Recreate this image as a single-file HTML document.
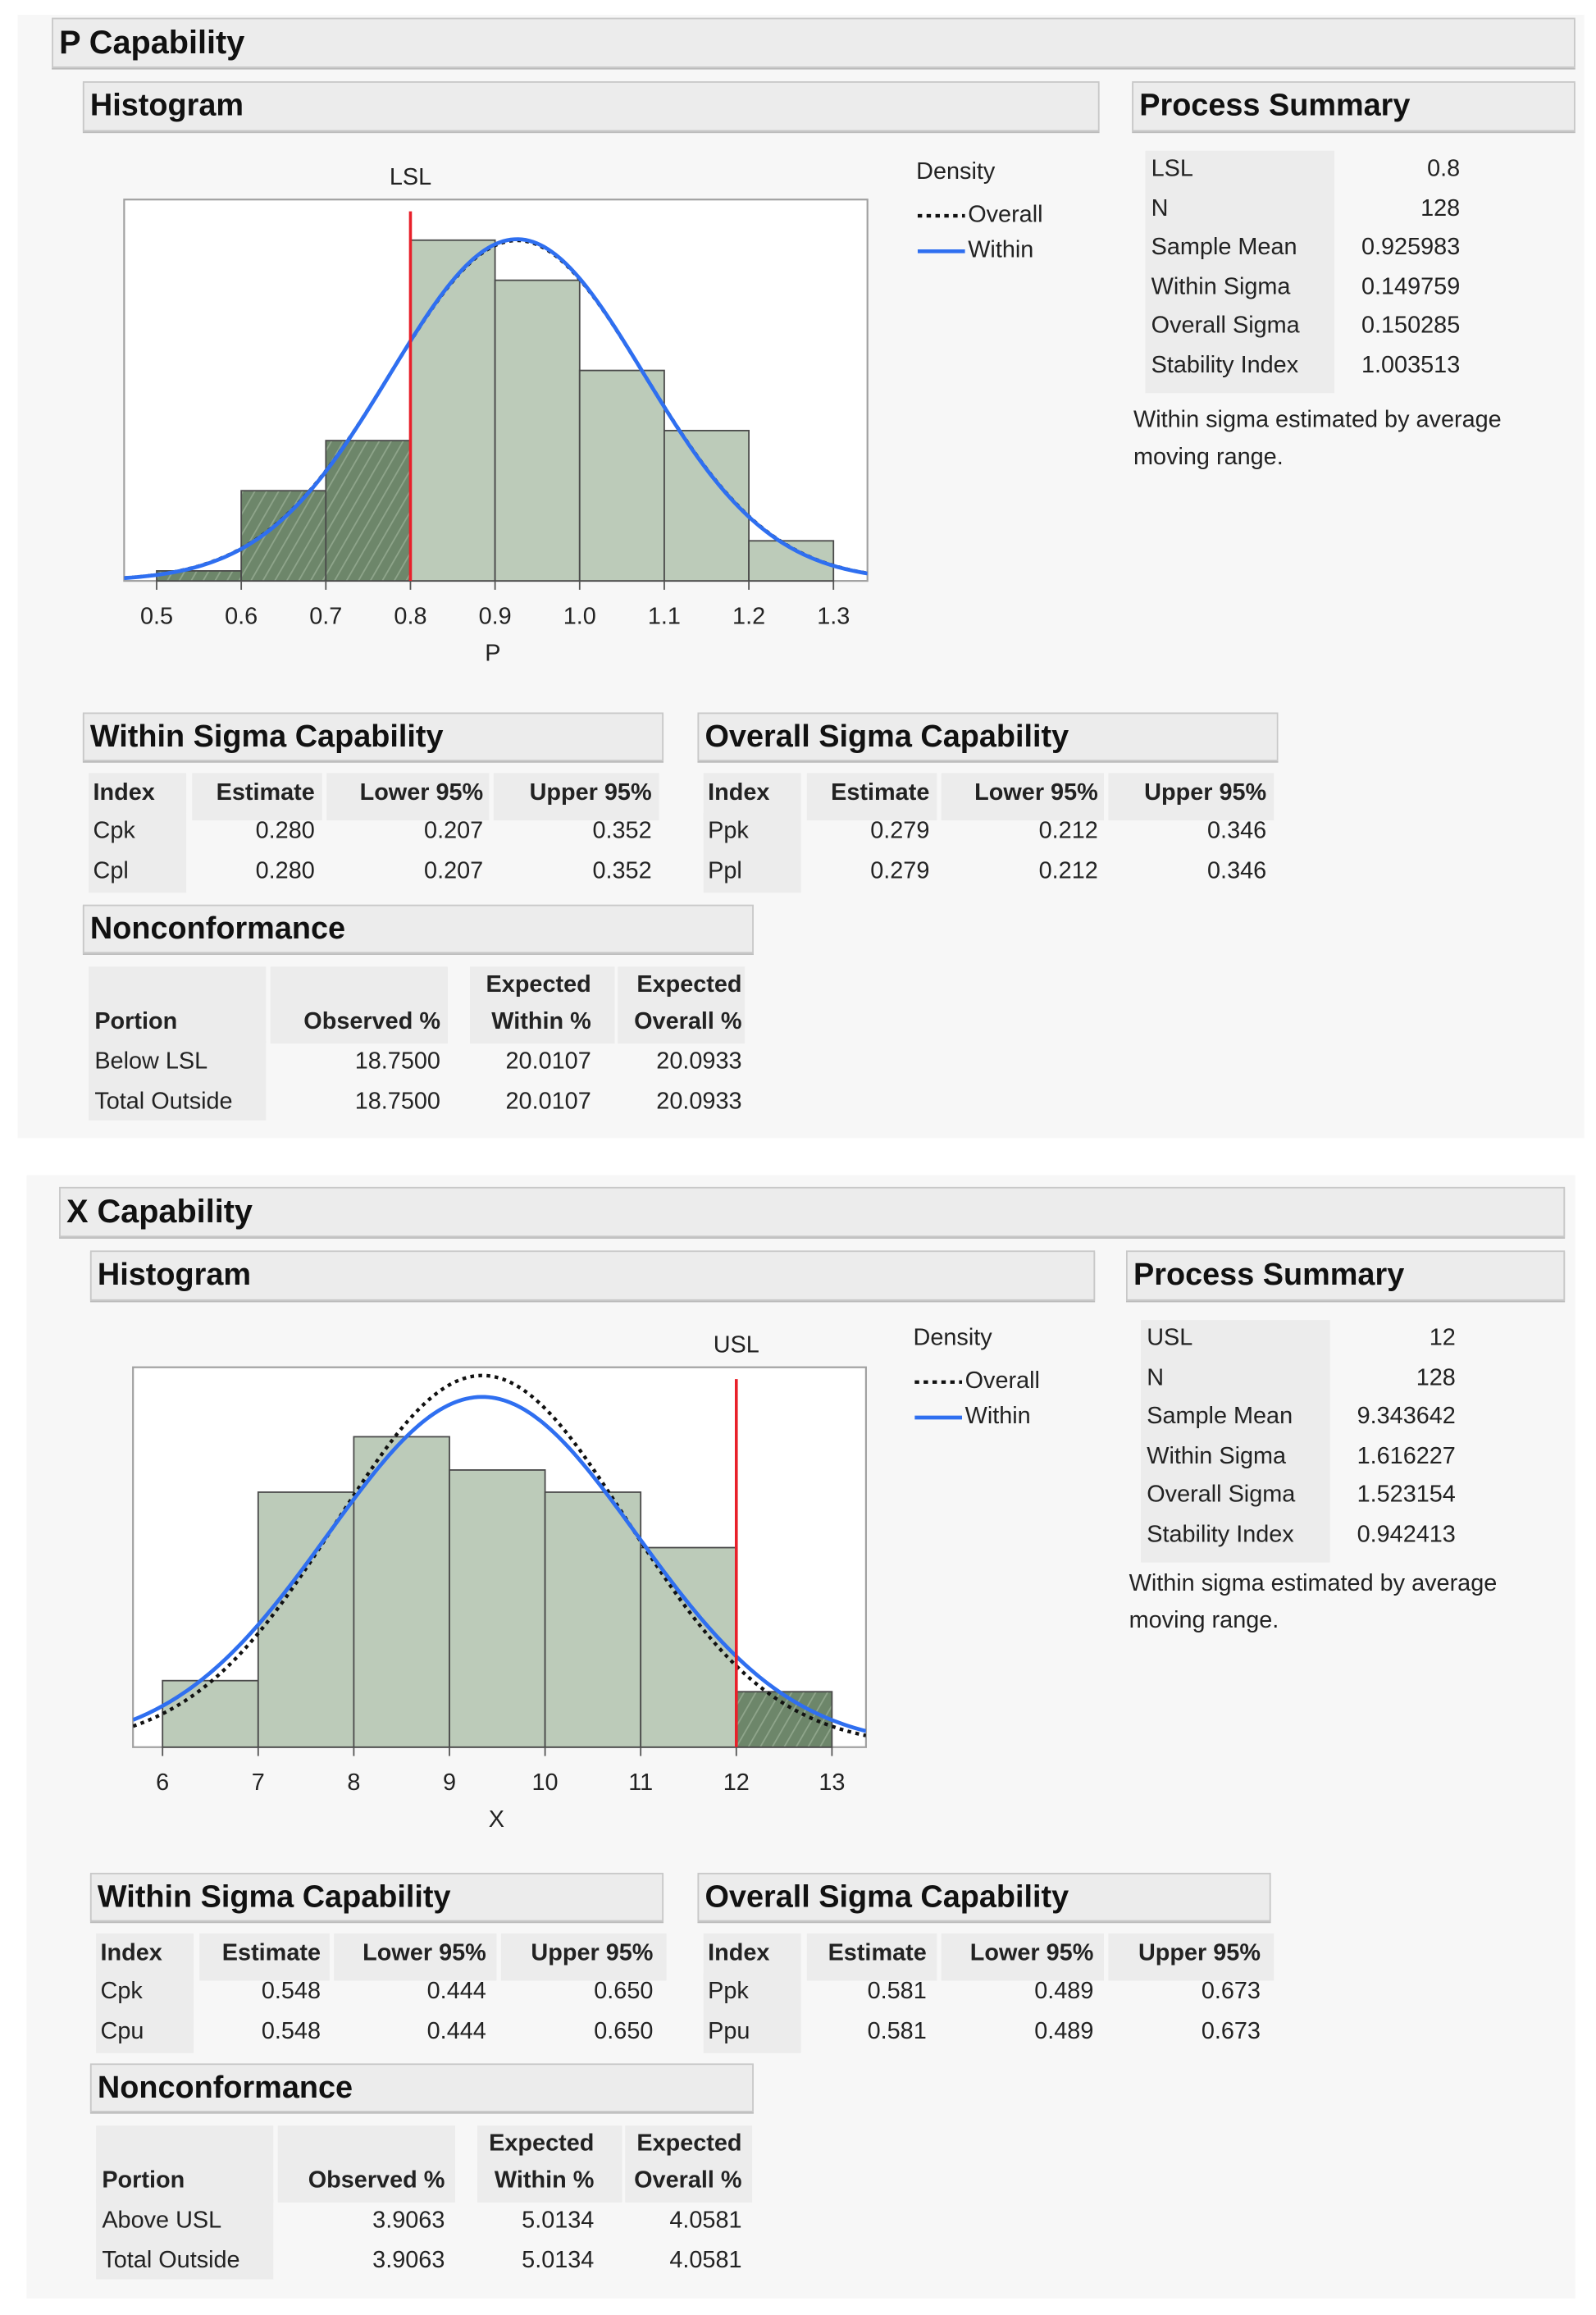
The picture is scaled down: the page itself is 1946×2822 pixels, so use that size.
<!DOCTYPE html>
<html><head><meta charset="utf-8">
<style>
html,body{margin:0;padding:0;background:#fff;}
body{width:1946px;height:2822px;overflow:hidden;position:relative;}
#root{position:absolute;left:0;top:0;width:1080px;height:1566px;transform:scale(1.80185);transform-origin:0 0;font-family:"Liberation Sans",sans-serif;color:#222;}
.panel{position:absolute;background:#f7f7f7;}
.bar{position:absolute;background:#ececec;border:1px solid #c8c8c8;box-shadow:0 1px 0 #bbb;box-sizing:border-box;font-weight:bold;color:#111;}
.t{position:absolute;white-space:nowrap;line-height:20px;transform:translateY(-50%);font-size:16px;}
.cell{position:absolute;background:#ececec;}
svg{position:absolute;left:0;top:0;overflow:visible;}
</style></head>
<body>
<div id="root">
<div class="panel" style="left:12px;top:10px;width:1060px;height:760px"></div>
<div class="panel" style="left:18px;top:795px;width:1048px;height:760px"></div>
<svg id="chartsvg" width="1080" height="1566">
<defs>
<pattern id="hatch" width="7" height="7" patternUnits="userSpaceOnUse" patternTransform="rotate(30)">
<rect width="7" height="7" fill="#6d866a"/>
<line x1="0" y1="0" x2="0" y2="7" stroke="#8fa58b" stroke-width="2"/>
</pattern>
<clipPath id="clipP"><rect x="84" y="135" width="503" height="258"/></clipPath>
<clipPath id="clipX"><rect x="90" y="925" width="496" height="257"/></clipPath>
</defs>
</svg>
</div>
<script>
// ---- P chart data ----
const pBinEdges = [0.5,0.6,0.7,0.8,0.9,1.0,1.1,1.2,1.3];
const pCounts = [1,9,14,34,30,21,15,4];
const pTicks = ["0.5","0.6","0.7","0.8","0.9","1.0","1.1","1.2","1.3"];
const pLimit = [0.8];
const pStats = [0.925983,0.149759,0.150285,128];
// ---- X chart data ----
const xBinEdges = [6,7,8,9,10,11,12,13];
const xCounts = [6,23,28,25,23,18,5];
const xTicks = ["6","7","8","9","10","11","12","13"];
const xLimit = [12];
const xStats = [9.343642,1.616227,1.523154,128];

const root = document.getElementById('root');
const svg = document.getElementById('chartsvg');
const NS = 'http://www.w3.org/2000/svg';

function mk(tag, attrs, parent){
  const e = document.createElementNS(NS, tag);
  for (const k in attrs) e.setAttribute(k, attrs[k]);
  (parent||svg).appendChild(e);
  return e;
}
function txt(x, y, s, name, opts){
  const el = document.createElement('div');
  el.className = 't';
  el.textContent = s;
  
  
  let st = 'top:' + y + 'px;';
  if (opts && opts.right) st += 'left:' + (x-300) + 'px;width:300px;text-align:right;';
  else if (opts && opts.center) st += 'left:' + (x-150) + 'px;width:300px;text-align:center;';
  else st += 'left:' + x + 'px;';
  if (opts && opts.bold) st += 'font-weight:bold;';
  if (opts && opts.size) st += 'font-size:' + opts.size + 'px;';
  el.style.cssText = st;
  root.appendChild(el);
  return el;
}
function bar(x, y, w, h, s, name, size){
  const el = document.createElement('div');
  el.className = 'bar';
  el.style.cssText = 'left:'+x+'px;top:'+y+'px;width:'+w+'px;height:'+h+'px;font-size:'+(size||21)+'px;line-height:'+(h-2)+'px;padding-left:4px;';
  el.textContent = s;
  
  
  root.appendChild(el);
}
function cell(x, y, w, h){
  const el = document.createElement('div');
  el.className = 'cell';
  el.style.cssText = 'left:'+x+'px;top:'+y+'px;width:'+w+'px;height:'+h+'px;';
  
  
  root.appendChild(el);
}

function drawHist(cfg){
  const g = mk('g', {});
  
  
  const xs = v => cfg.x0 + (v - cfg.v0) * cfg.ppu;
  const ys = c => cfg.fb - c * cfg.ppc;
  const fr = mk('rect', {x:cfg.fl, y:cfg.ft, width:cfg.fr-cfg.fl, height:cfg.fb-cfg.ft, fill:'#fff', stroke:'#a0a0a0', 'stroke-width':1.2}, g);
  
  
  const edges = cfg.edges, counts = cfg.counts, lim = cfg.limit[0];
  for (let i = 0; i < counts.length; i++){
    const a = edges[i], b = edges[i+1];
    const out = cfg.lower ? (b <= lim) : (a >= lim);
    const r = mk('rect', {x:xs(a), y:ys(counts[i]), width:xs(b)-xs(a), height:counts[i]*cfg.ppc, fill: out ? 'url(#hatch)' : '#bccbb9', stroke:'#4a4a4a', 'stroke-width':1}, g);
    
    
  }
  const mean = cfg.stats[0], n = cfg.stats[3], bw = edges[1]-edges[0];
  function curve(sig){
    let d = '';
    const lo = cfg.v0 + (cfg.fl - cfg.x0)/cfg.ppu, hi = cfg.v0 + (cfg.fr - cfg.x0)/cfg.ppu;
    for (let k = 0; k <= 200; k++){
      const v = lo + (hi-lo)*k/200;
      const c = n*bw/(sig*Math.sqrt(2*Math.PI))*Math.exp(-0.5*((v-mean)/sig)**2);
      d += (k ? 'L' : 'M') + xs(v).toFixed(2) + ',' + ys(c).toFixed(2);
    }
    return d;
  }
  const ov = mk('path', {d:curve(cfg.stats[2]), fill:'none', stroke:'#111', 'stroke-width':2.4, 'stroke-dasharray':'2.5,3', 'clip-path':'url(#'+cfg.clip+')'}, g);
  
  
  const wi = mk('path', {d:curve(cfg.stats[1]), fill:'none', stroke:'#2f6ff0', 'stroke-width':2.6, 'clip-path':'url(#'+cfg.clip+')'}, g);
  
  
  const ll = mk('line', {x1:xs(lim), x2:xs(lim), y1:cfg.ft+8, y2:cfg.fb, stroke:'#e8202a', 'stroke-width':2}, g);
  
  
  txt(xs(lim), cfg.ft-14, cfg.limName, 'spec-limit-label', {center:true});
  for (let i = 0; i < cfg.ticks.length; i++){
    const v = parseFloat(cfg.ticks[i]);
    const tk = mk('line', {x1:xs(v), x2:xs(v), y1:cfg.fb, y2:cfg.fb+6, stroke:'#555', 'stroke-width':1}, g);
    
    
    txt(xs(v), cfg.fb+25, cfg.ticks[i], 'x-tick-label', {center:true});
  }
  txt((cfg.fl+cfg.fr)/2 - 2, cfg.fb+50, cfg.axisName, 'x-axis-title', {center:true});
  txt(cfg.lx, cfg.ly, 'Density', 'legend-title');
  const l1 = mk('line', {x1:cfg.lx+1, x2:cfg.lx+33, y1:cfg.ly+29, y2:cfg.ly+29, stroke:'#111', 'stroke-width':2.4, 'stroke-dasharray':'3,3'}, g);
  
  
  txt(cfg.lx+35, cfg.ly+29, 'Overall', 'legend-overall');
  const l2 = mk('line', {x1:cfg.lx+1, x2:cfg.lx+33, y1:cfg.ly+53, y2:cfg.ly+53, stroke:'#2f6ff0', 'stroke-width':2.6}, g);
  
  
  txt(cfg.lx+35, cfg.ly+53, 'Within', 'legend-within');
}

drawHist({id:'p', x0:106, v0:0.5, ppu:572.5, fb:393, ppc:6.78, fl:84, fr:587, ft:135, edges:pBinEdges, counts:pCounts, ticks:pTicks, limit:pLimit, stats:pStats, lower:true, limName:'LSL', axisName:'P', clip:'clipP', lx:620, ly:117});
drawHist({id:'x', x0:110, v0:6, ppu:64.71, fb:1182, ppc:7.5, fl:90, fr:586, ft:925, edges:xBinEdges, counts:xCounts, ticks:xTicks, limit:xLimit, stats:xStats, lower:false, limName:'USL', axisName:'X', clip:'clipX', lx:618, ly:906});

function section(dy, dx, cfg){
  bar(cfg.tb[0], 12+dy, cfg.tb[1], 34, cfg.title, cfg.key+'-title-bar', 22);
  bar(56+dx, 55+dy, cfg.hw, 34, 'Histogram', cfg.key+'-histogram-header');
  bar(cfg.psb[0], 55+dy, cfg.psb[1], 34, 'Process Summary', cfg.key+'-process-summary-header');
  const px = 775 + cfg.psdx;
  cell(px, 102+dy, 128, 164);
  const labels = [cfg.limName,'N','Sample Mean','Within Sigma','Overall Sigma','Stability Index'];
  for (let i = 0; i < 6; i++){
    txt(px+4, 115+dy+i*26.6, labels[i], 'summary-label');
    txt(px+213, 115+dy+i*26.6, cfg.ps[i], 'summary-value', {right:true});
  }
  txt(px-8, 285+dy+cfg.ndy, 'Within sigma estimated by average', 'summary-note');
  txt(px-8, 310+dy+cfg.ndy, 'moving range.', 'summary-note');
  const cy = cfg.cy;
  bar(56+dx, cy, 393-dx, 33, 'Within Sigma Capability', cfg.key+'-within-capability-header');
  bar(472, cy, cfg.ow, 33, 'Overall Sigma Capability', cfg.key+'-overall-capability-header');
  function capTable(x, idx, rows, right){
    cell(x-3, cy+41, 66, 32); cell(x+67, cy+41, 88, 32); cell(x+158, cy+41, 110, 32); cell(x+271, cy+41, 112, 32);
    cell(x-3, cy+68, 66, 54);
    txt(x, cy+55, 'Index', 'table-header', {bold:true});
    txt(right[0], cy+55, 'Estimate', 'table-header', {bold:true, right:true});
    txt(right[1], cy+55, 'Lower 95%', 'table-header', {bold:true, right:true});
    txt(right[2], cy+55, 'Upper 95%', 'table-header', {bold:true, right:true});
    for (let r = 0; r < 2; r++){
      txt(x, cy+81+r*27, idx[r], 'index-name');
      for (let c = 0; c < 3; c++) txt(right[c], cy+81+r*27, rows[r][c], 'capability-value', {right:true});
    }
  }
  capTable(63+cfg.wdx, cfg.widx, cfg.wvals, cfg.wr);
  capTable(479, cfg.oidx, cfg.ovals, cfg.or);
  const ny = cfg.ny;
  bar(56+dx, ny, 454-dx, 33, 'Nonconformance', cfg.key+'-nonconformance-header');
  const nx = 60 + cfg.wdx;
  cell(nx, ny+42, 120, 52); cell(nx+123, ny+42, 120, 52); cell(nx+258, ny+42, 98, 52); cell(nx+358, ny+42, 86, 52);
  cell(nx, ny+92, 120, 54);
  txt(nx+4, ny+80, 'Portion', 'table-header', {bold:true});
  txt(cfg.nr[0], ny+80, 'Observed %', 'table-header', {bold:true, right:true});
  txt(cfg.nr[1], ny+55, 'Expected', 'table-header', {bold:true, right:true});
  txt(cfg.nr[1], ny+80, 'Within %', 'table-header', {bold:true, right:true});
  txt(cfg.nr[2], ny+55, 'Expected', 'table-header', {bold:true, right:true});
  txt(cfg.nr[2], ny+80, 'Overall %', 'table-header', {bold:true, right:true});
  for (let r = 0; r < 2; r++){
    txt(nx+4, ny+107+r*27, cfg.nport[r], 'portion-name');
    for (let c = 0; c < 3; c++) txt(cfg.nr[c], ny+107+r*27, cfg.nvals[r][c], 'nonconformance-value', {right:true});
  }
}
section(0, 0, {key:'p', title:'P Capability', tb:[35,1031], hw:688, psb:[766,300], limName:'LSL', psdx:0, ndy:0,
  ps:['0.8','128','0.925983','0.149759','0.150285','1.003513'],
  cy:482, ow:393, wdx:0, widx:['Cpk','Cpl'], wvals:[['0.280','0.207','0.352'],['0.280','0.207','0.352']], wr:[213,327,441],
  oidx:['Ppk','Ppl'], ovals:[['0.279','0.212','0.346'],['0.279','0.212','0.346']], or:[629,743,857],
  ny:612, nr:[298,400,502], nport:['Below LSL','Total Outside'], nvals:[['18.7500','20.0107','20.0933'],['18.7500','20.0107','20.0933']]});
section(791, 5, {key:'x', title:'X Capability', tb:[40,1019], hw:680, psb:[762,297], limName:'USL', psdx:-3, ndy:-4,
  ps:['12','128','9.343642','1.616227','1.523154','0.942413'],
  cy:1267, ow:388, wdx:5, widx:['Cpk','Cpu'], wvals:[['0.548','0.444','0.650'],['0.548','0.444','0.650']], wr:[217,329,442],
  oidx:['Ppk','Ppu'], ovals:[['0.581','0.489','0.673'],['0.581','0.489','0.673']], or:[627,740,853],
  ny:1396, nr:[301,402,502], nport:['Above USL','Total Outside'], nvals:[['3.9063','5.0134','4.0581'],['3.9063','5.0134','4.0581']]});
</script>
</body></html>
